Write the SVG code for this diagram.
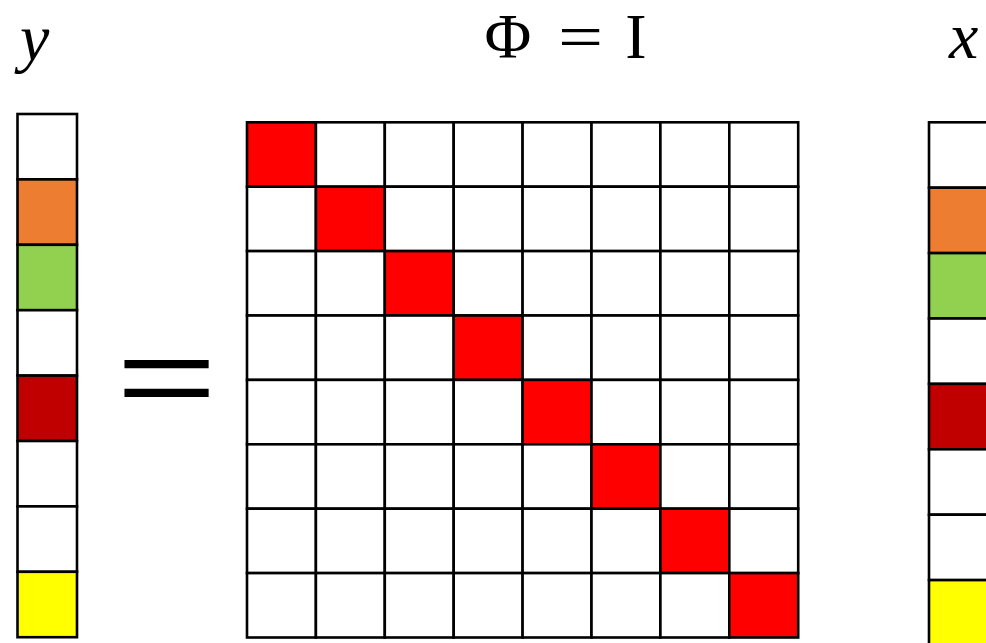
<svg xmlns="http://www.w3.org/2000/svg" width="986" height="643" viewBox="0 0 986 643">
<style>
.c{stroke:#000;stroke-width:2.6;fill:#fff}
.o{fill:#ED7D31}.g{fill:#92D050}.d{fill:#C00000}.yl{fill:#FFFF00}.r{fill:#FF0000}
.v{font-family:"Liberation Serif",serif;font-style:italic;font-size:66px;fill:#000}
.m{font-family:"Liberation Serif",serif;font-size:64px;fill:#000;text-anchor:middle}
</style>
<rect width="986" height="643" fill="#fff"/>
<g id="label-y"><text class="v" x="20" y="60">y</text></g>
<g id="label-phi"><text class="m" x="508" y="57.5">Φ</text><text class="m" x="0" y="0" transform="translate(580.5,57.5) scale(1.25,1)">=</text><text class="m" x="636" y="57.5">I</text></g>
<g id="label-x"><text class="v" x="949" y="58">x</text></g>
<g id="vector-y">
<rect class="c" x="17.5" y="114" width="59.5" height="65.4"/>
<rect class="c o" x="17.5" y="179.4" width="59.5" height="65.4"/>
<rect class="c g" x="17.5" y="244.8" width="59.5" height="65.4"/>
<rect class="c" x="17.5" y="310.2" width="59.5" height="65.4"/>
<rect class="c d" x="17.5" y="375.6" width="59.5" height="65.4"/>
<rect class="c" x="17.5" y="441" width="59.5" height="65.4"/>
<rect class="c" x="17.5" y="506.4" width="59.5" height="65.4"/>
<rect class="c yl" x="17.5" y="571.8" width="59.5" height="65.4"/>
</g>
<g id="equals"><text x="0" y="0" transform="translate(116,416) scale(1.42,0.94)" style="font-family:'Liberation Sans',sans-serif;font-size:122px;fill:#000">=</text></g>
<g id="matrix-phi">
<g id="row0"><rect class="c r" x="247" y="122.3" width="68.9" height="64.4"/><rect class="c" x="315.9" y="122.3" width="68.9" height="64.4"/><rect class="c" x="384.8" y="122.3" width="68.9" height="64.4"/><rect class="c" x="453.7" y="122.3" width="68.9" height="64.4"/><rect class="c" x="522.6" y="122.3" width="68.9" height="64.4"/><rect class="c" x="591.5" y="122.3" width="68.9" height="64.4"/><rect class="c" x="660.4" y="122.3" width="68.9" height="64.4"/><rect class="c" x="729.3" y="122.3" width="68.9" height="64.4"/></g>
<g id="row1"><rect class="c" x="247" y="186.7" width="68.9" height="64.4"/><rect class="c r" x="315.9" y="186.7" width="68.9" height="64.4"/><rect class="c" x="384.8" y="186.7" width="68.9" height="64.4"/><rect class="c" x="453.7" y="186.7" width="68.9" height="64.4"/><rect class="c" x="522.6" y="186.7" width="68.9" height="64.4"/><rect class="c" x="591.5" y="186.7" width="68.9" height="64.4"/><rect class="c" x="660.4" y="186.7" width="68.9" height="64.4"/><rect class="c" x="729.3" y="186.7" width="68.9" height="64.4"/></g>
<g id="row2"><rect class="c" x="247" y="251.1" width="68.9" height="64.4"/><rect class="c" x="315.9" y="251.1" width="68.9" height="64.4"/><rect class="c r" x="384.8" y="251.1" width="68.9" height="64.4"/><rect class="c" x="453.7" y="251.1" width="68.9" height="64.4"/><rect class="c" x="522.6" y="251.1" width="68.9" height="64.4"/><rect class="c" x="591.5" y="251.1" width="68.9" height="64.4"/><rect class="c" x="660.4" y="251.1" width="68.9" height="64.4"/><rect class="c" x="729.3" y="251.1" width="68.9" height="64.4"/></g>
<g id="row3"><rect class="c" x="247" y="315.5" width="68.9" height="64.4"/><rect class="c" x="315.9" y="315.5" width="68.9" height="64.4"/><rect class="c" x="384.8" y="315.5" width="68.9" height="64.4"/><rect class="c r" x="453.7" y="315.5" width="68.9" height="64.4"/><rect class="c" x="522.6" y="315.5" width="68.9" height="64.4"/><rect class="c" x="591.5" y="315.5" width="68.9" height="64.4"/><rect class="c" x="660.4" y="315.5" width="68.9" height="64.4"/><rect class="c" x="729.3" y="315.5" width="68.9" height="64.4"/></g>
<g id="row4"><rect class="c" x="247" y="379.9" width="68.9" height="64.4"/><rect class="c" x="315.9" y="379.9" width="68.9" height="64.4"/><rect class="c" x="384.8" y="379.9" width="68.9" height="64.4"/><rect class="c" x="453.7" y="379.9" width="68.9" height="64.4"/><rect class="c r" x="522.6" y="379.9" width="68.9" height="64.4"/><rect class="c" x="591.5" y="379.9" width="68.9" height="64.4"/><rect class="c" x="660.4" y="379.9" width="68.9" height="64.4"/><rect class="c" x="729.3" y="379.9" width="68.9" height="64.4"/></g>
<g id="row5"><rect class="c" x="247" y="444.3" width="68.9" height="64.4"/><rect class="c" x="315.9" y="444.3" width="68.9" height="64.4"/><rect class="c" x="384.8" y="444.3" width="68.9" height="64.4"/><rect class="c" x="453.7" y="444.3" width="68.9" height="64.4"/><rect class="c" x="522.6" y="444.3" width="68.9" height="64.4"/><rect class="c r" x="591.5" y="444.3" width="68.9" height="64.4"/><rect class="c" x="660.4" y="444.3" width="68.9" height="64.4"/><rect class="c" x="729.3" y="444.3" width="68.9" height="64.4"/></g>
<g id="row6"><rect class="c" x="247" y="508.7" width="68.9" height="64.4"/><rect class="c" x="315.9" y="508.7" width="68.9" height="64.4"/><rect class="c" x="384.8" y="508.7" width="68.9" height="64.4"/><rect class="c" x="453.7" y="508.7" width="68.9" height="64.4"/><rect class="c" x="522.6" y="508.7" width="68.9" height="64.4"/><rect class="c" x="591.5" y="508.7" width="68.9" height="64.4"/><rect class="c r" x="660.4" y="508.7" width="68.9" height="64.4"/><rect class="c" x="729.3" y="508.7" width="68.9" height="64.4"/></g>
<g id="row7"><rect class="c" x="247" y="573.1" width="68.9" height="64.4"/><rect class="c" x="315.9" y="573.1" width="68.9" height="64.4"/><rect class="c" x="384.8" y="573.1" width="68.9" height="64.4"/><rect class="c" x="453.7" y="573.1" width="68.9" height="64.4"/><rect class="c" x="522.6" y="573.1" width="68.9" height="64.4"/><rect class="c" x="591.5" y="573.1" width="68.9" height="64.4"/><rect class="c" x="660.4" y="573.1" width="68.9" height="64.4"/><rect class="c r" x="729.3" y="573.1" width="68.9" height="64.4"/></g>
</g>
<g id="vector-x">
<rect class="c" x="929" y="122.3" width="60" height="65.4"/>
<rect class="c o" x="929" y="187.7" width="60" height="65.4"/>
<rect class="c g" x="929" y="253.1" width="60" height="65.4"/>
<rect class="c" x="929" y="318.5" width="60" height="65.4"/>
<rect class="c d" x="929" y="383.9" width="60" height="65.4"/>
<rect class="c" x="929" y="449.3" width="60" height="65.4"/>
<rect class="c" x="929" y="514.7" width="60" height="65.4"/>
<rect class="c yl" x="929" y="580.1" width="60" height="65.4"/>
</g>
</svg>
